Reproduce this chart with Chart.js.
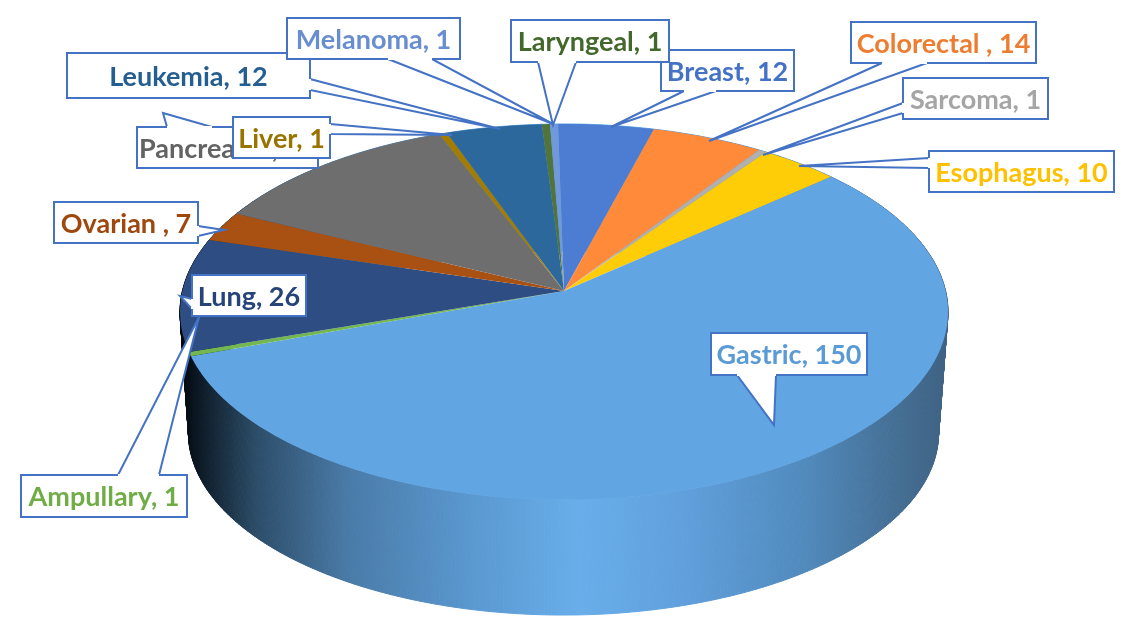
<!DOCTYPE html>
<html>
<head>
<meta charset="utf-8">
<title>Cancer cases</title>
<script src="https://cdn.jsdelivr.net/npm/chart.js@4"></script>
<style>
  html, body { margin: 0; padding: 0; background: #fff; }
  canvas { display: block; }
</style>
</head>
<body>
<canvas id="pieChart" width="1130" height="636"></canvas>
<script>
const categories = ['Breast', 'Colorectal ', 'Sarcoma', 'Esophagus', 'Gastric', 'Ampullary', 'Lung', 'Ovarian ', 'Pancreatic ', 'Liver', 'Leukemia', 'Laryngeal', 'Melanoma'];
const values = [12, 14, 1, 10, 150, 1, 26, 7, 32, 1, 12, 1, 1];
const sliceColors = ['#4c7dd3', '#ff8a3a', '#b0b0b0', '#ffcc08', '#62a5e3', '#72b74f', '#2e4d82', '#a85113', '#6e6e6e', '#a37c00', '#2d689d', '#50743a', '#7098da'];
const textColors = ['#4472c4', '#ed7d31', '#a5a5a5', '#ffc000', '#5b9bd5', '#70ad47', '#264478', '#9e480e', '#636363', '#997300', '#255e91', '#43682b', '#698ed0'];

// callout boxes: x, y, w, h, pointer base a, pointer base b, tip
const callouts = [
  [661, 50, 133, 41, [684, 91], [716, 91], [611, 127]],
  [851, 22, 185, 41, [882, 63], [927, 63], [709, 141]],
  [903, 78, 145, 41, [903, 103], [903, 113], [763, 155]],
  [929, 151, 185, 41, [929, 158], [929, 168], [799, 166]],
  [711, 333, 156, 42, [737, 375], [776, 375], [774, 425]],
  [21, 475, 166, 42, [118, 475], [159, 475], [199, 317]],
  [192, 275, 114, 41, [192, 299], [192, 309], [180, 296]],
  [54, 202, 144, 41, [198, 226], [198, 236], [224, 230]],
  [137, 127, 181, 41, [167, 127], [212, 127], [163, 113]],
  [233, 117, 97, 41, [330, 124], [330, 134], [452, 135]],
  [67, 53, 243, 45, [310, 79], [310, 90], [500, 129]],
  [511, 20, 158, 42, [538, 62], [576, 62], [553, 125]],
  [287, 18, 173, 41, [388, 59], [432, 59], [553, 124]]
];

// perspective of the disc: top face and bottom rim
const persp = 0.111;
const topFace = { cx: 564, cy: 291, a: 381.6, b: 185.6 };
const bottomFace = { cx: 563.5, cy: 412.8, a: 372.7, b: 179.8 };

function project(face, angle) {
  const w = 1 - persp * Math.sin(angle);
  return [face.cx + face.a * Math.cos(angle) / w, face.cy + face.b * Math.sin(angle) / w];
}

function traceRim(ctx, face, from, to) {
  const steps = Math.max(4, Math.ceil(Math.abs(to - from) * 60));
  for (let i = 0; i <= steps; i++) {
    const p = project(face, from + (to - from) * i / steps);
    ctx.lineTo(p[0], p[1]);
  }
}

const pie3d = {
  id: 'pie3d',
  beforeDatasetDraw(chart, args) {
    const ctx = chart.ctx;
    const arcs = chart.getDatasetMeta(args.index).data;

    // side wall in thin strips, one shading from left to right
    const wall = ctx.createLinearGradient(180, 0, 948, 0);
    wall.addColorStop(0, '#020508');
    wall.addColorStop(0.02, '#0a1621');
    wall.addColorStop(0.1, '#2c4d69');
    wall.addColorStop(0.22, '#4a7ba8');
    wall.addColorStop(0.38, '#5a98d0');
    wall.addColorStop(0.52, '#68aeea');
    wall.addColorStop(0.66, '#609fdc');
    wall.addColorStop(0.82, '#5089bb');
    wall.addColorStop(0.93, '#456f95');
    wall.addColorStop(1, '#3e6283');
    ctx.fillStyle = wall;
    ctx.strokeStyle = wall;
    ctx.lineWidth = 1;
    arcs.forEach(arc => {
      const steps = Math.max(2, Math.ceil((arc.endAngle - arc.startAngle) * 120));
      const dt = (arc.endAngle - arc.startAngle) / steps;
      for (let i = 0; i < steps; i++) {
        const t0 = arc.startAngle + i * dt;
        const a = project(topFace, t0);
        const b = project(topFace, t0 + dt);
        const c = project(bottomFace, t0 + dt);
        const d = project(bottomFace, t0);
        ctx.beginPath();
        ctx.moveTo(a[0], a[1]);
        ctx.lineTo(b[0], b[1]);
        ctx.lineTo(c[0], c[1]);
        ctx.lineTo(d[0], d[1]);
        ctx.closePath();
        ctx.fill();
        ctx.stroke();
      }
    });

    // top face, from the angles the library worked out
    arcs.forEach((arc, i) => {
      ctx.beginPath();
      ctx.moveTo(topFace.cx, topFace.cy);
      traceRim(ctx, topFace, arc.startAngle, arc.endAngle);
      ctx.closePath();
      ctx.fillStyle = sliceColors[i];
      ctx.fill();
    });
    return false;
  },
  afterDatasetsDraw(chart) {
    const ctx = chart.ctx;
    ctx.save();
    ctx.font = 'bold 27px Lato';
    ctx.textAlign = 'center';
    ctx.textBaseline = 'middle';
    ctx.lineWidth = 2;
    ctx.strokeStyle = '#4472c4';
    callouts.forEach((c, i) => {
      const [x, y, w, h, p1, p2, tip] = c;
      ctx.fillStyle = '#fff';
      ctx.beginPath();
      ctx.moveTo(p1[0], p1[1]);
      ctx.lineTo(tip[0], tip[1]);
      ctx.lineTo(p2[0], p2[1]);
      ctx.closePath();
      ctx.fill();
      ctx.stroke();
      ctx.fillRect(x, y, w, h);
      ctx.strokeRect(x, y, w, h);
      // open the box edge under the pointer
      ctx.strokeStyle = '#fff';
      ctx.beginPath();
      ctx.moveTo(p1[0], p1[1]);
      ctx.lineTo(p2[0], p2[1]);
      ctx.stroke();
      ctx.strokeStyle = '#4472c4';
      ctx.fillStyle = textColors[i];
      ctx.fillText(categories[i] + ', ' + values[i], x + w / 2, y + h / 2 + 1.5);
    });
    ctx.restore();
  }
};

new Chart(document.getElementById('pieChart').getContext('2d'), {
  type: 'pie',
  data: {
    labels: categories,
    datasets: [{
      data: values,
      backgroundColor: sliceColors,
      borderWidth: 0
    }]
  },
  options: {
    responsive: false,
    animation: false,
    rotation: -1,
    plugins: {
      legend: { display: false },
      tooltip: { enabled: false }
    }
  },
  plugins: [pie3d]
});
</script>
</body>
</html>
